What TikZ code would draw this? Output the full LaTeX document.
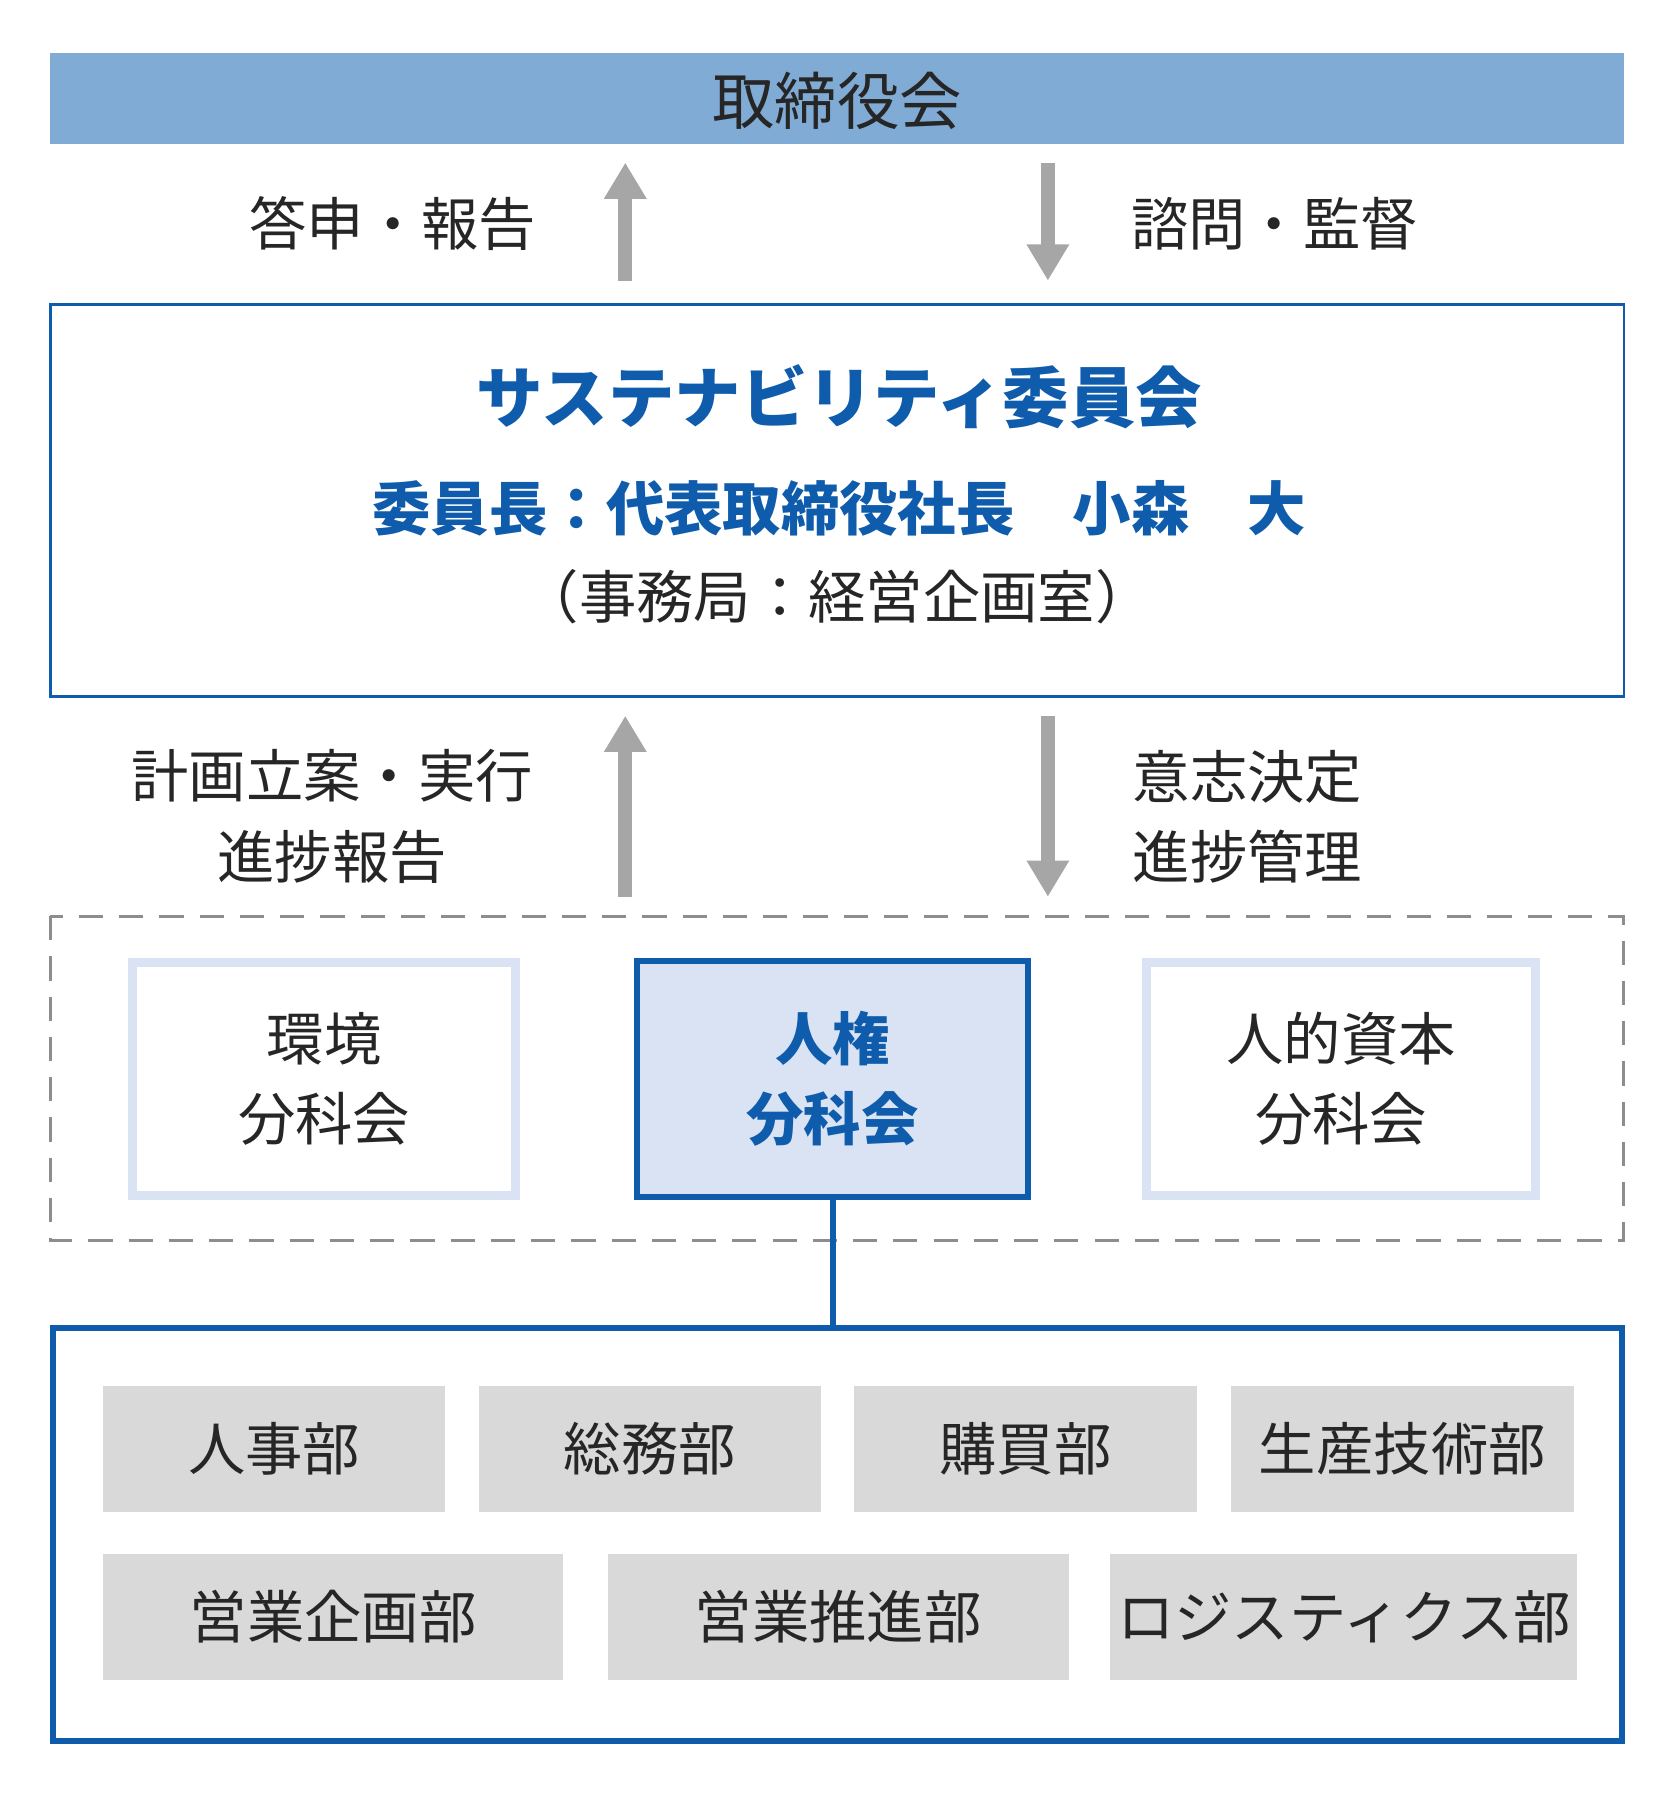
\documentclass[tikz,border=0pt]{standalone}
\usepackage{fontspec}
\setmainfont{Noto Sans CJK JP}
\usetikzlibrary{arrows.meta}
\definecolor{topfill}{HTML}{80ABD5}
\definecolor{blue1}{HTML}{0E5CAB}
\definecolor{lite}{HTML}{DAE3F3}
\definecolor{grayb}{HTML}{D9D9D9}
\definecolor{arr}{HTML}{A6A6A6}
\definecolor{txt}{HTML}{262626}
\tikzset{
 big/.style={font=\fontsize{28.5}{40}\selectfont, text=txt},
 garrow/.style={arr, line width=7pt, -{Triangle[width=20pt,length=18pt]}},
 dept/.style={fill=grayb, draw=none, big},
 sub/.style={draw=lite, line width=4.5pt, big, align=center},
}
\begin{document}
\begin{tikzpicture}[x=0.02cm,y=-0.02cm]
\useasboundingbox (0,0) rectangle (1456,1570);
\fill[topfill] (44,46) rectangle (1418,126);
\node[big, font=\fontsize{31}{40}\selectfont] (board) at (731,88) {取締役会};
\coordinate (a1s) at (546,245); \coordinate (a1e) at (546,142);
\coordinate (a2s) at (915,142); \coordinate (a2e) at (915,245);
\draw[garrow] (a1s) -- (a1e);
\draw[garrow] (a2s) -- (a2e);
\node[big] (l1) at (343,195) {答申・報告};
\node[big] (l2) at (1113,195) {諮問・監督};
\draw[blue1, line width=1.2pt] (44,266) rectangle (1418,608);
\node[font=\fontsize{33}{40}\selectfont\bfseries, text=blue1] (c1) at (733,346) {サステナビリティ委員会};
\node[font=\fontsize{29}{40}\selectfont\bfseries, text=blue1] (c2) at (733,444) {委員長：代表取締役社長　小森　大};
\node[big] (c3) at (731,521) {（事務局：経営企画室）};
\coordinate (b1s) at (546,783); \coordinate (b1e) at (546,625);
\coordinate (b2s) at (915,625); \coordinate (b2e) at (915,783);
\draw[garrow] (b1s) -- (b1e);
\draw[garrow] (b2s) -- (b2e);
\node[big, align=center] (l3) at (290,713) {計画立案・実行\\進捗報告};
\node[big, align=left, anchor=west] (l4) at (983,713) {意志決定\\進捗管理};
\draw[arr!85!black, line width=1.5pt, dash pattern=on 12pt off 8pt] (44,800) rectangle (1418,1083);
\node[sub, minimum width=10*0.02cm*33.5, minimum height=0.02cm*203] (s1) at (283,942) {環境\\分科会};
\node[sub, fill=lite, draw=blue1, line width=3pt, text=blue1, font=\fontsize{28.5}{40}\selectfont\bfseries, minimum width=0.02cm*342, minimum height=0.02cm*206] (s2) at (727,942) {人権\\分科会};
\node[sub, minimum width=0.02cm*339, minimum height=0.02cm*203] (s3) at (1171,942) {人的資本\\分科会};
\draw[blue1, line width=3pt] (46,1160) rectangle (1416,1520);
\coordinate (bt) at (727,1160);
\draw[blue1, line width=3pt] (s2.south) -- (bt);
\foreach \n/\x/\w/\t in {d1/90/299/人事部, d2/418/299/総務部, d3/746/299/購買部, d4/1075/299/生産技術部}
  \node[dept, minimum width=\w*0.02cm, minimum height=110*0.02cm] (\n) at (\x+\w/2,1265) {\t};
\foreach \n/\x/\w/\t in {d5/90/402/営業企画部, d6/531/402/営業推進部, d7/972/403/ロジスティクス部}
  \node[dept, minimum width=\w*0.02cm, minimum height=110*0.02cm] (\n) at (\x+\w/2,1412) {\t};
\end{tikzpicture}
\end{document}
